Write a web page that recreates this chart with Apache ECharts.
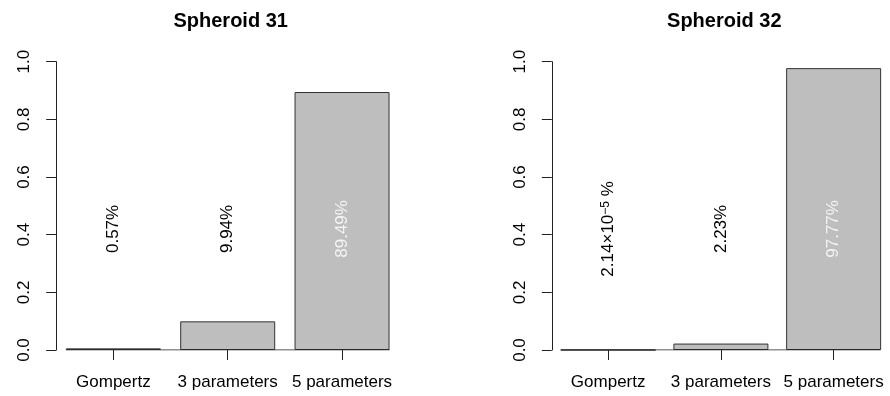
<!DOCTYPE html>
<html>
<head>
<meta charset="utf-8">
<script src="https://cdn.jsdelivr.net/npm/echarts@6/dist/echarts.min.js"></script>
<style>
  html, body { margin: 0; padding: 0; background: #fff; }
  #chart { width: 890px; height: 396px; }
</style>
</head>
<body>
<div id="chart"></div>
<script>
// Model weights (posterior probabilities) per growth model
const categories = ['Gompertz', '3 parameters', '5 parameters'];
const panelTitles = ['Spheroid 31', 'Spheroid 32'];
const spheroid31 = [0.0057, 0.0994, 0.8949];
const spheroid32 = [0.000000214, 0.0223, 0.9777];
const yTicks = [0, 0.2, 0.4, 0.6, 0.8, 1.0];

// layout
const FONT = 'Liberation Sans, Arial, Helvetica, sans-serif';
const PLOT_TOP = 61.7;
const PLOT_H = 288.3;
const PLOT_W = 343;
const BAR_W = 95;
const LABEL_Y = 0.42;            // height at which the percentage texts sit
const panelLefts = [56.2, 551.8];
const axisOffsets = [4, 3.5];
const BAR_FILL = '#BEBEBE';
const INK = '#222';

function pctText(v) {
  const pct = v * 100;
  if (pct >= 0.01) return '{n|' + pct.toFixed(2) + '%}';
  const exp = Math.floor(Math.log10(pct));
  const mant = pct / Math.pow(10, exp);
  return '{n|' + mant.toFixed(2) + '×10}{s|' + String(exp).replace('-', '−') + '}{n| %}';
}

const panels = [spheroid31, spheroid32];
const grid = [], xAxis = [], yAxis = [], series = [], title = [];
const bandW = PLOT_W / categories.length;
const inset = (bandW - BAR_W) / 2 / bandW;

panels.forEach((values, i) => {
  grid.push({ left: panelLefts[i], top: PLOT_TOP, width: PLOT_W, height: PLOT_H });
  title.push({
    text: panelTitles[i],
    left: panelLefts[i] + PLOT_W / 2 + (i === 0 ? -2 : -4),
    top: 6,
    textAlign: 'center',
    textStyle: { fontFamily: FONT, fontSize: 20, fontWeight: 'bold', color: '#000' }
  });
  // category axis for bars
  xAxis.push({
    type: 'category', gridIndex: i, data: categories,
    axisLine: { show: false },
    axisTick: { show: true, alignWithLabel: true, length: 10, lineStyle: { color: INK } },
    axisLabel: { fontFamily: FONT, fontSize: 17, color: '#000', margin: 24, interval: 0 },
    splitLine: { show: false }
  });
  // hidden band-unit axis for the zero baseline
  xAxis.push({ type: 'value', gridIndex: i, min: 0, max: categories.length, show: false });
  yAxis.push({
    type: 'value', gridIndex: i, min: 0, max: 1, interval: 0.2, offset: axisOffsets[i],
    axisLine: { show: true, lineStyle: { color: INK } },
    axisTick: { show: true, length: 10, lineStyle: { color: INK } },
    axisLabel: {
      fontFamily: FONT, fontSize: 17, color: '#000', rotate: 90, margin: 19,
      formatter: v => yTicks.includes(+v.toFixed(1)) ? v.toFixed(1) : ''
    },
    splitLine: { show: false }
  });
  series.push({
    type: 'bar', xAxisIndex: i * 2, yAxisIndex: i, data: values, barWidth: BAR_W,
    itemStyle: { color: BAR_FILL, borderColor: '#333', borderWidth: 1 },
    silent: true
  });
  series.push({
    type: 'line', xAxisIndex: i * 2 + 1, yAxisIndex: i,
    data: [[inset, 0], [categories.length - inset, 0]],
    symbol: 'none', lineStyle: { color: INK, width: 1 }, silent: true, z: 3
  });
  // vertical percentage texts; those inside tall bars are drawn light
  series.push({
    type: 'custom', xAxisIndex: i * 2, yAxisIndex: i, silent: true, z: 5,
    data: values.map((v, k) => [k, v]),
    renderItem: (params, api) => {
      const k = api.value(0);
      const v = values[k];
      const pt = api.coord([k, LABEL_Y]);
      const col = v > LABEL_Y ? '#F4F4F4' : '#000';
      return {
        type: 'text',
        x: pt[0], y: pt[1],
        rotation: Math.PI / 2,
        style: {
          text: pctText(v),
          align: 'center', verticalAlign: 'middle',
          fill: col,
          font: '17px ' + FONT,
          rich: {
            n: { fontFamily: FONT, fontSize: 17, fill: col },
            s: { fontFamily: FONT, fontSize: 12, fill: col, verticalAlign: 'top' }
          }
        }
      };
    }
  });
});

const chart = echarts.init(document.getElementById('chart'), null, { renderer: 'canvas' });
chart.setOption({
  animation: false,
  backgroundColor: '#fff',
  title, grid, xAxis, yAxis, series
});
</script>
</body>
</html>
